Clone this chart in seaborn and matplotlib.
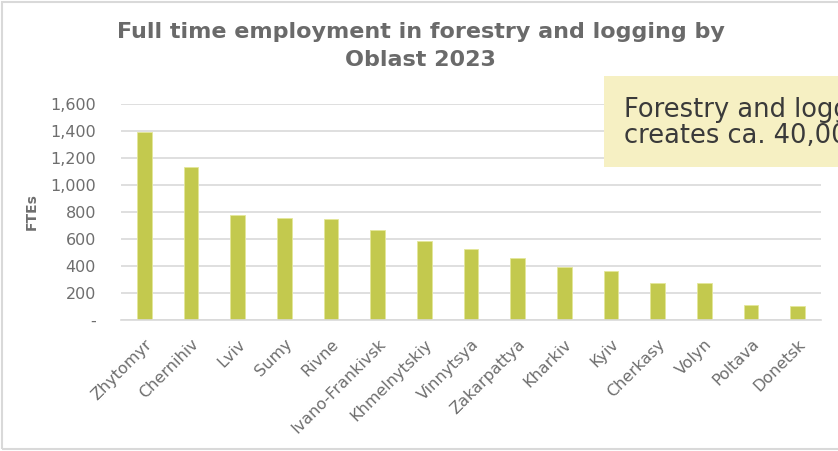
import matplotlib
matplotlib.use("Agg")
import matplotlib.pyplot as plt
from matplotlib.patches import Rectangle
from matplotlib.ticker import FuncFormatter
import seaborn as sns
import pandas as pd

# Full-time equivalent jobs in forestry and logging, by oblast (2023)
oblasts = ["Zhytomyr", "Chernihiv", "Lviv", "Sumy", "Rivne", "Ivano-Frankivsk",
           "Khmelnytskiy", "Vinnytsya", "Zakarpattya", "Kharkiv", "Kyiv",
           "Cherkasy", "Volyn", "Poltava", "Donetsk"]
ftes = [1395, 1135, 775, 755, 748, 667, 583, 523, 462, 388, 360, 274, 275, 111, 104]
y_ticks = [0, 200, 400, 600, 800, 1000, 1200, 1400, 1600]

title = "Full time employment in forestry and logging by\nOblast 2023"
y_label = "FTEs"
callout = "Forestry and logging\ncreates ca. 40,000 jobs"

BAR = "#C3C94E"
GREY = "#6E6E6E"
GRID = "#D9D9D9"

sns.set_theme(style="white")
plt.rcParams["font.family"] = ["DejaVu Sans"]

df = pd.DataFrame({"oblast": oblasts, "fte": ftes})

fig = plt.figure(figsize=(8.38, 4.51), dpi=100)
ax = fig.add_axes([0.1444, 0.291, 0.8353, 0.478])

sns.barplot(data=df, x="oblast", y="fte", color=BAR, saturation=1,
            width=0.315, edgecolor="#E4E79A", linewidth=0.6, ax=ax)

ax.set_ylim(0, 1600)
ax.set_xlim(-0.5, len(oblasts) - 0.5)
ax.set_yticks(y_ticks)
ax.yaxis.set_major_formatter(FuncFormatter(lambda v, p: "-" if v == 0 else f"{int(v):,}"))
ax.yaxis.grid(True, color=GRID, linewidth=1.2)
ax.set_axisbelow(True)
for s in ["top", "right", "left"]:
    ax.spines[s].set_visible(False)
ax.spines["bottom"].set_color(GRID)
ax.spines["bottom"].set_linewidth(1.2)

ax.tick_params(axis="y", length=0, pad=18, labelsize=11.5, labelcolor=GREY)
ax.tick_params(axis="x", length=0, pad=12, labelsize=11.5, labelcolor=GREY)
for lab in ax.get_xticklabels():
    lab.set_rotation(45)
    lab.set_ha("right")
    lab.set_rotation_mode("anchor")

ax.set_xlabel("")
ax.set_ylabel(y_label, fontsize=10, fontweight="bold", color=GREY)
ax.yaxis.set_label_coords(-0.118, 0.5)

fig.text(0.502, 1 - 22 / 451, title, ha="center", va="top", fontsize=16,
         fontweight="bold", color="#6A6A6A", linespacing=1.5)

# callout box on the right
fig.patches.append(Rectangle((604 / 838, 1 - 167 / 451), 0.3, 91 / 451,
                             transform=fig.transFigure, facecolor="#F6F0C3",
                             edgecolor="none", zorder=5))
fig.text(624 / 838, 1 - 123 / 451, callout, ha="left", va="center",
         fontsize=18.5, color="#3A3A3A", linespacing=1.0, zorder=6)

# chart frame
fig.patches.append(Rectangle((2 / 838, 2 / 451), 1.0, 1 - 4 / 451,
                             transform=fig.transFigure, facecolor="none",
                             edgecolor=GRID, linewidth=1.5, zorder=4))

fig.savefig("out.png", dpi=100)
